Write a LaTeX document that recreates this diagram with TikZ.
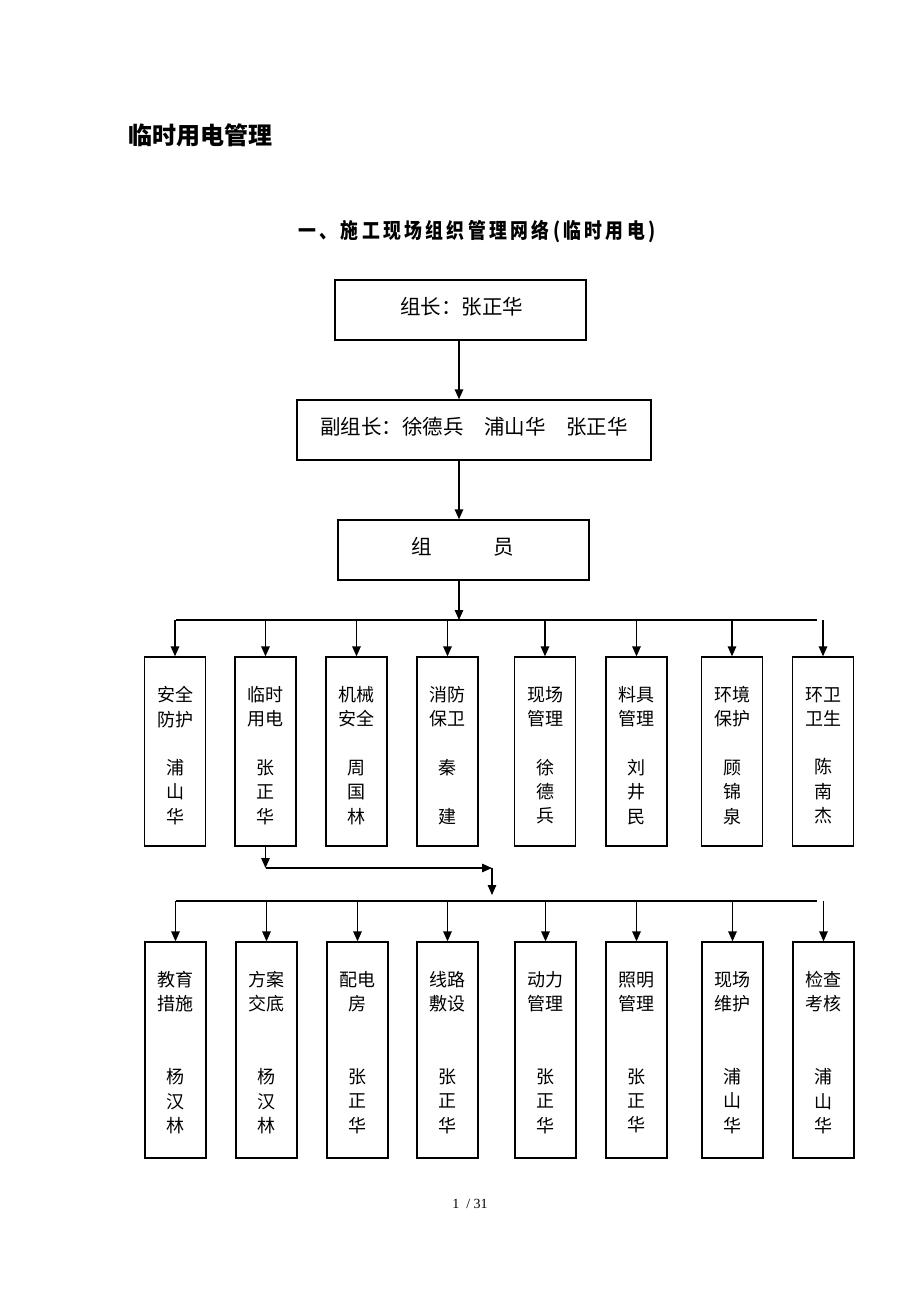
\documentclass[tikz,border=0pt]{standalone}
\usepackage{fontspec}
\setmainfont{Liberation Serif}
\newfontfamily\cjk{Noto Sans CJK SC}
\newfontfamily\cjksub[FakeStretch=0.85,LetterSpace=16]{Noto Sans CJK SC}
\usetikzlibrary{arrows.meta}
\begin{document}
\begin{tikzpicture}[x=1pt,y=-1pt,
  line/.style={line width=1.3pt, draw=black},
  arr/.style={line, -{Triangle[length=10pt,width=8.5pt]}},
  plainbox/.style={draw=black, line width=1.3pt, inner sep=0pt},
  toptext/.style={inner sep=0pt, font=\cjk\fontsize{20.5}{24}\selectfont},
  colbox/.style={draw=black, line width=1.3pt, inner sep=0pt, minimum width=61pt},
  coltext/.style={inner sep=0pt, align=center, font=\cjk\fontsize{18}{24.3}\selectfont}
]
\useasboundingbox (0,0) rectangle (920,1302);
\fill[white] (0,0) rectangle (920,1302);

% titles
\node[anchor=west, inner sep=0pt, font=\cjk\bfseries\fontsize{24}{28}\selectfont] (title) at (128,135) {临时用电管理};
\node[inner sep=0pt, font=\cjksub\bfseries\fontsize{21}{24}\selectfont] (subtitle) at (477,231.5) {一、施工现场组织管理网络(临时用电)};

% top boxes
\coordinate (sp) at (459,0);
\node[plainbox, minimum width=251pt, minimum height=60pt] (b1) at (460.5,310) {};
\node[toptext] (b1t) at (461.5,306.5) {组长：张正华};
\node[plainbox, minimum width=354pt, minimum height=60pt] (b2) at (474,430) {};
\node[toptext] (b2t) at (474,426.5) {副组长：徐德兵　浦山华　张正华};
\node[plainbox, minimum width=251pt, minimum height=60pt] (b3) at (463.5,550) {};
\node[toptext] (b3t) at (462.5,546.5) {组　　　员};

\draw[arr] (sp |- b1.south) -- (sp |- b2.north);
\draw[arr] (sp |- b2.south) -- (sp |- b3.north);
\coordinate (bus1) at (459,620);
\coordinate (bus1L) at (176,620);
\coordinate (bus1R) at (817,620);
\draw[arr] (sp |- b3.south) -- (bus1);
\draw[line] (bus1L) -- (bus1R);

% row 1
\foreach \x/\i/\t in {
  175/1/{安全\\防护\\\mbox{}\\浦\\山\\华},
  265.5/2/{临时\\用电\\\mbox{}\\张\\正\\华},
  356.5/3/{机械\\安全\\\mbox{}\\周\\国\\林},
  447.5/4/{消防\\保卫\\\mbox{}\\秦\\\mbox{}\\建},
  545/5/{现场\\管理\\\mbox{}\\徐\\德\\兵},
  636.5/6/{料具\\管理\\\mbox{}\\刘\\井\\民},
  732/7/{环境\\保护\\\mbox{}\\顾\\锦\\泉},
  823/8/{环卫\\卫生\\\mbox{}\\陈\\南\\杰}} {
  \node[colbox, minimum height=189pt] (r1-\i) at (\x,751.5) {};
  \node[coltext] (r1t-\i) at (\x,755.5) {\t};
  \draw[arr] (r1-\i.north |- bus1) -- (r1-\i.north);
}

% junction
\coordinate (j1) at (266,868);
\coordinate (j2) at (492,868);
\coordinate (j3) at (492,895);
\draw[arr] (r1-2.south) -- (r1-2.south |- j1);
\draw[arr] (r1-2.south |- j1) -- (j2);
\draw[arr] (j2) -- (j3);

\coordinate (bus2L) at (176,901);
\coordinate (bus2R) at (817,901);
\draw[line] (bus2L) -- (bus2R);

% row 2
\foreach \x/\i/\t in {
  175.5/1/{教育\\措施\\\mbox{}\\\mbox{}\\杨\\汉\\林},
  266.5/2/{方案\\交底\\\mbox{}\\\mbox{}\\杨\\汉\\林},
  357.5/3/{配电\\房\\\mbox{}\\\mbox{}\\张\\正\\华},
  447.5/4/{线路\\敷设\\\mbox{}\\\mbox{}\\张\\正\\华},
  545.5/5/{动力\\管理\\\mbox{}\\\mbox{}\\张\\正\\华},
  636.5/6/{照明\\管理\\\mbox{}\\\mbox{}\\张\\正\\华},
  732.5/7/{现场\\维护\\\mbox{}\\\mbox{}\\浦\\山\\华},
  823.5/8/{检查\\考核\\\mbox{}\\\mbox{}\\浦\\山\\华}} {
  \node[colbox, minimum height=216pt] (r2-\i) at (\x,1050) {};
  \node[coltext] (r2t-\i) at (\x,1052.5) {\t};
  \draw[arr] (r2-\i.north |- bus2L) -- (r2-\i.north);
}

\node[inner sep=0pt, font=\fontsize{14}{16}\selectfont] (pg) at (470,1204) {1~ / 31};
\end{tikzpicture}
\end{document}
